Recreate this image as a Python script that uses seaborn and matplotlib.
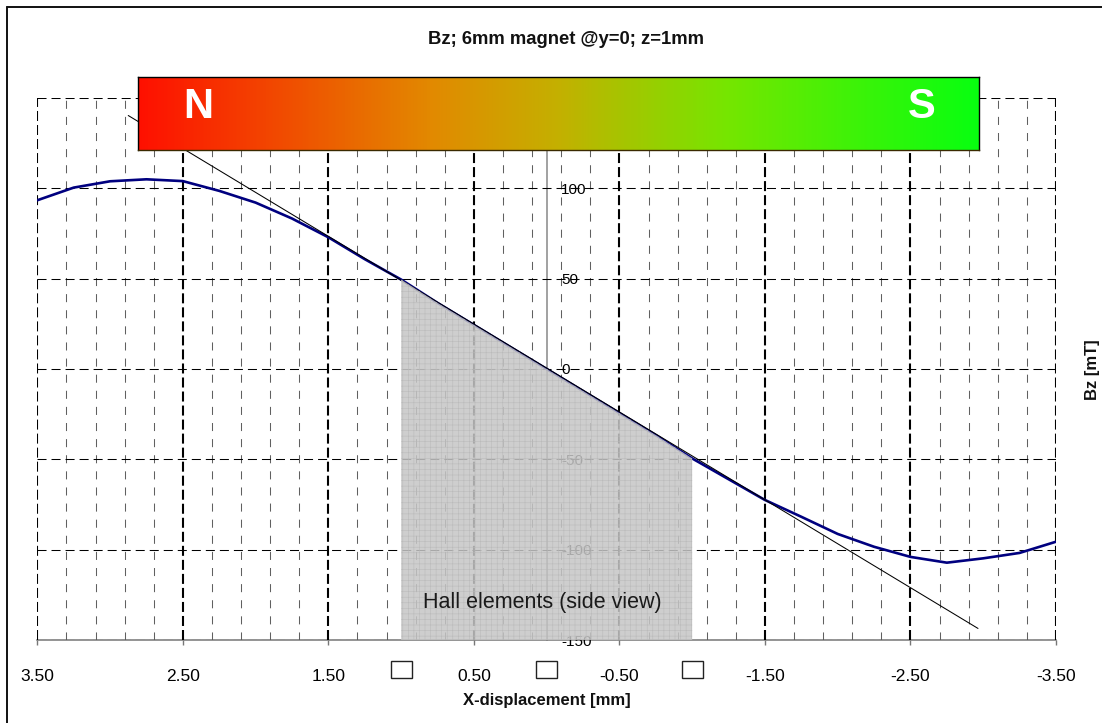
import numpy as np
import pandas as pd
import matplotlib
matplotlib.use("Agg")
import matplotlib.pyplot as plt
import seaborn as sns
from matplotlib.colors import LinearSegmentedColormap
from matplotlib.patches import Rectangle
from matplotlib.lines import Line2D
import matplotlib.transforms as mtransforms

# ---------------- data ----------------
x_mm = [3.5, 3.25, 3.0, 2.75, 2.5, 2.25, 2.0, 1.75, 1.5, 1.25, 1.0, 0.75, 0.5, 0.25, 0.0,
        -0.25, -0.5, -0.75, -1.0, -1.25, -1.5, -1.75, -2.0, -2.25, -2.5, -2.75, -3.0, -3.25, -3.5]
bz_mT = [93.4, 100.4, 103.9, 105.0, 104.0, 98.6, 92.1, 83.3, 72.9, 60.8, 49.5, 36.6, 24.4, 12.2, 0.0,
         -12.2, -24.4, -36.6, -49.5, -61.0, -72.5, -81.8, -91.3, -98.4, -104.0, -107.2, -104.8, -101.8, -95.6]
tangent_x = [2.875, -2.964]
tangent_y = [140.3, -143.6]
hall_range = [1.0, -1.0]
hall_x = [1.0, 0.0, -1.0]
x_ticks = [3.5, 2.5, 1.5, 0.5, -0.5, -1.5, -2.5, -3.5]
x_tick_labels = ["3.50", "2.50", "1.50", "0.50", "-0.50", "-1.50", "-2.50", "-3.50"]
y_ticks = [-150, -100, -50, 0, 50, 100, 150]
y_tick_labels = ["-150", "-100", "-50", "0", "50", "100", ""]
title = "Bz; 6mm magnet @y=0; z=1mm"
x_label = "X-displacement [mm]"
y_label = "Bz [mT]"
hall_text = "Hall elements (side view)"
pole_labels = ["N", "S"]

df = pd.DataFrame({"x": x_mm, "bz": bz_mT})

# ---------------- style ----------------
sns.set_theme(style="white")
plt.rcParams["font.family"] = ["Liberation Sans", "DejaVu Sans"]
plt.rcParams["lines.scale_dashes"] = False
plt.rcParams["hatch.linewidth"] = 0.4

W, H = 1102, 723
fig = plt.figure(figsize=(W / 100, H / 100), dpi=100)
fig.patch.set_facecolor("white")

ax_l, ax_r, ax_b, ax_t = 37.3 / W, 1056 / W, (H - 640) / H, (H - 98) / H
ax = fig.add_axes([ax_l, ax_b, ax_r - ax_l, ax_t - ax_b])
ax.set_facecolor("white")

# curve
sns.lineplot(data=df, x="x", y="bz", ax=ax, sort=False, color="#00007f",
             linewidth=1.9, zorder=3, legend=False)
# tangent
ax.plot(tangent_x, tangent_y, color="black", linewidth=0.75, zorder=3)

# hall elements shaded area
mask = (df["x"] <= hall_range[0]) & (df["x"] >= hall_range[1])
ax.fill_between(df["x"][mask], -150, df["bz"][mask], facecolor="#c6c6c6",
                alpha=0.85, hatch="+++", edgecolor="#b8b8b8", linewidth=0, zorder=4)
ax.text(0.03, -129.5, hall_text, ha="center", va="center", fontsize=15.5,
        color="#1a1a1a", zorder=5)

# axes limits / ticks
ax.set_xlim(3.5, -3.5)
ax.set_ylim(-150, 150)
ax.set_xticks(x_ticks)
ax.set_xticklabels(x_tick_labels)
ax.set_xticks(np.arange(3.5, -3.51, -0.2), minor=True)

ax.yaxis.tick_right()
ax.set_yticks(y_ticks)
ax.set_yticklabels(y_tick_labels)

ax.tick_params(axis="x", which="major", length=5 * 0.72, width=1.0, color="#777777",
               direction="out", pad=17.5, labelsize=12.5, labelcolor="black", bottom=True)
ax.tick_params(axis="x", which="minor", length=0, bottom=False)
ax.tick_params(axis="y", which="both", length=0, pad=10.5, labelsize=11,
               labelcolor="black", labelright=True, labelleft=False, right=False, left=False)

# grids
ax.grid(which="major", axis="x", color="black", linestyle=(0, (7.2, 2.9)), linewidth=1.5)
ax.grid(which="minor", axis="x", color="#606060", linestyle=(0, (5.8, 5.8)), linewidth=0.75)
ax.grid(which="major", axis="y", color="black", linestyle=(0, (6.5, 3.6)), linewidth=0.75)
ax.set_axisbelow(False)

# spines
ax.spines["top"].set_visible(False)
ax.spines["left"].set_visible(False)
ax.spines["right"].set_position(("data", 0))
ax.spines["right"].set_color("#888888")
ax.spines["right"].set_linewidth(1.1)
ax.spines["bottom"].set_color("#777777")
ax.spines["bottom"].set_linewidth(1.1)

# labels
ax.set_xlabel(x_label, fontsize=12, fontweight="bold", color="#111111")
ax.xaxis.set_label_coords(0.5, -(700 - 640) / 542)
ax.xaxis.label.set_va("center")
ax.set_ylabel(y_label, fontsize=12, fontweight="bold", color="#111111", rotation=90)
ax.yaxis.set_label_coords((1092 - 37.3) / 1018.7, (640 - 370) / 542)
ax.yaxis.label.set_va("center")
ax.yaxis.label.set_ha("center")

# hall element squares below axis
btrans = mtransforms.blended_transform_factory(ax.transData, ax.transAxes)
sq_w = 21 / 145.5
sq_h = 17 / 542
for hx in hall_x:
    ax.add_patch(Rectangle((hx + sq_w / 2, -(669.5 - 640) / 542 - sq_h / 2), -sq_w, sq_h,
                           transform=btrans, clip_on=False, facecolor="white",
                           edgecolor="#222222", linewidth=1.0, zorder=6))

# title
fig.text(566 / W, 1 - 40 / H, title, ha="center", va="center", fontsize=13.3,
         fontweight="bold", color="#111111")

# magnet bar
mx0, mx1, my0, my1 = 138 / W, 979 / W, 1 - 150 / H, 1 - 77 / H
max_ = fig.add_axes([mx0, my0, mx1 - mx0, my1 - my0])
cmap = LinearSegmentedColormap.from_list(
    "magnet", [(0.0, "#ff1000"), (0.35, "#e28a00"), (0.5, "#c4b000"),
               (0.7, "#76e600"), (1.0, "#08ff10")])
grad = np.linspace(0, 1, 512)[None, :]
max_.imshow(grad, aspect="auto", cmap=cmap, extent=[0, 1, 0, 1])
max_.set_xlim(0, 1)
max_.set_ylim(0, 1)
max_.set_xticks([])
max_.set_yticks([])
for sp in max_.spines.values():
    sp.set_visible(True)
    sp.set_color("black")
    sp.set_linewidth(1.0)
max_.spines["bottom"].set_color("#3a2a00")
max_.text((198 - 138) / 841, 0.585, pole_labels[0], ha="center", va="center",
          fontsize=30, fontweight="bold", color="white")
max_.text((922 - 138) / 841, 0.585, pole_labels[1], ha="center", va="center",
          fontsize=30, fontweight="bold", color="white")

# outer frame (top and left only visible)
fig.add_artist(Line2D([7 / W, 1], [1 - 6.5 / H, 1 - 6.5 / H], color="#111111", linewidth=1.4))
fig.add_artist(Line2D([7 / W, 7 / W], [0, 1 - 6.5 / H], color="#111111", linewidth=1.4))

fig.savefig("out.png", dpi=100, facecolor="white")
